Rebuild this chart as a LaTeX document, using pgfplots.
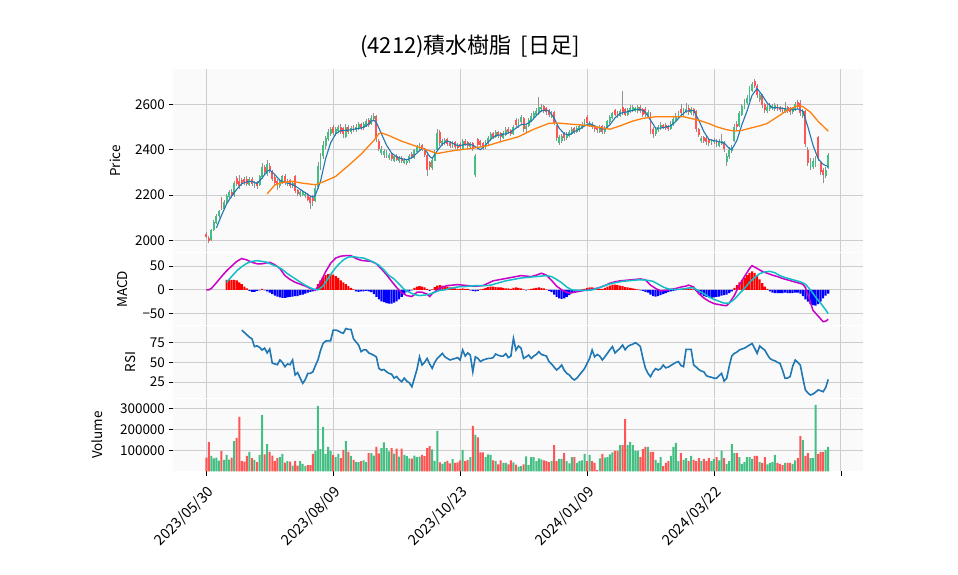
\documentclass[border=0pt]{standalone}
\usepackage{fontspec}
\setmainfont{Noto Sans CJK JP}
\usepackage{pgfplots}
\usepackage{pgfplotstable}
\pgfplotsset{compat=1.18}

\definecolor{upc}{RGB}{67,191,131}
\definecolor{dnc}{RGB}{255,85,85}
\definecolor{wickc}{RGB}{145,145,145}
\definecolor{bgc}{RGB}{250,250,250}
\definecolor{gridc}{RGB}{205,205,205}
\definecolor{ma5c}{RGB}{31,119,180}
\definecolor{ma25c}{RGB}{255,127,14}
\definecolor{macdc}{RGB}{200,0,200}
\definecolor{sigc}{RGB}{20,190,200}

% daily candles, split by colour: i open high low close volume
\pgfplotstableread{
i o h l c v
2 2000 2052 1995 2045 73000
3 2045 2088 2040 2080 62000
4 2078 2118 2072 2108 65000
5 2105 2135 2098 2128 51000
7 2140 2178 2132 2170 54000
8 2168 2205 2160 2195 78000
9 2192 2222 2185 2212 56000
11 2198 2262 2192 2252 144000
17 2245 2280 2240 2272 92000
19 2242 2262 2232 2256 54000
21 2242 2290 2238 2282 78000
22 2278 2340 2270 2325 268000
24 2292 2355 2285 2335 130000
29 2240 2270 2232 2262 68000
30 2255 2290 2250 2282 83000
32 2245 2270 2238 2262 49000
34 2238 2260 2230 2252 27000
37 2198 2222 2192 2215 49000
38 2202 2220 2195 2212 35000
39 2195 2212 2188 2206 25000
43 2175 2242 2168 2232 97000
44 2235 2345 2228 2330 311000
45 2322 2385 2310 2372 106000
46 2370 2438 2360 2422 211000
47 2418 2462 2405 2452 83000
48 2445 2492 2440 2478 116000
49 2470 2500 2460 2492 97000
51 2470 2502 2462 2492 68000
52 2482 2510 2472 2502 83000
55 2455 2512 2450 2498 144000
57 2478 2505 2470 2496 73000
59 2485 2512 2478 2502 44000
60 2496 2520 2488 2512 44000
62 2495 2522 2488 2512 52000
63 2505 2535 2500 2525 44000
65 2515 2552 2510 2540 87000
66 2535 2560 2528 2550 75000
69 2385 2415 2375 2402 110000
70 2378 2405 2365 2395 138000
71 2372 2398 2362 2388 110000
72 2365 2385 2355 2378 95000
74 2352 2378 2345 2370 84000
76 2350 2372 2342 2365 70000
78 2342 2362 2335 2355 78000
79 2340 2358 2332 2350 72000
80 2348 2380 2342 2372 62000
82 2365 2405 2360 2398 75000
83 2390 2420 2385 2412 68000
84 2405 2428 2398 2420 70000
89 2318 2365 2312 2355 105000
90 2352 2398 2348 2390 50000
91 2400 2490 2395 2475 192000
93 2425 2448 2415 2438 35000
94 2430 2450 2422 2442 45000
97 2415 2440 2408 2432 58000
101 2405 2448 2398 2438 102000
104 2410 2435 2402 2428 68000
106 2290 2380 2278 2372 173000
110 2408 2442 2402 2432 68000
111 2428 2460 2420 2452 81000
112 2448 2478 2440 2468 78000
114 2455 2488 2450 2478 49000
117 2450 2482 2445 2472 40000
118 2465 2498 2460 2488 40000
121 2470 2508 2465 2500 43000
123 2502 2535 2495 2525 22000
124 2520 2552 2515 2542 25000
126 2490 2515 2480 2506 71000
127 2505 2540 2498 2530 30000
128 2525 2560 2520 2550 68000
129 2545 2572 2538 2562 68000
130 2555 2582 2548 2572 49000
131 2560 2632 2555 2590 62000
132 2578 2600 2565 2588 57000
136 2545 2572 2538 2565 49000
139 2430 2465 2420 2455 59000
140 2440 2470 2430 2462 59000
142 2450 2478 2442 2470 49000
143 2460 2485 2455 2478 38000
144 2470 2500 2465 2490 68000
146 2478 2505 2472 2495 40000
147 2488 2512 2480 2505 49000
148 2500 2520 2492 2510 52000
149 2505 2535 2500 2525 83000
151 2505 2525 2498 2515 78000
155 2480 2510 2475 2500 62000
157 2478 2505 2470 2495 65000
158 2495 2530 2490 2525 68000
159 2520 2552 2515 2545 81000
160 2540 2568 2535 2560 90000
163 2550 2580 2545 2570 125000
166 2555 2585 2550 2575 125000
167 2565 2595 2560 2582 140000
168 2570 2598 2565 2588 125000
169 2572 2590 2565 2582 97000
170 2570 2595 2562 2586 97000
174 2550 2575 2540 2565 116000
177 2470 2498 2462 2490 54000
178 2485 2508 2478 2500 40000
179 2495 2520 2488 2510 68000
183 2490 2525 2485 2515 73000
184 2510 2545 2505 2535 116000
185 2530 2560 2525 2550 135000
186 2545 2570 2540 2560 49000
188 2555 2585 2550 2572 54000
189 2565 2605 2560 2580 63000
191 2560 2590 2555 2578 73000
195 2438 2460 2430 2450 49000
199 2428 2448 2420 2440 49000
200 2432 2450 2425 2442 59000
202 2418 2445 2410 2432 52000
203 2425 2468 2420 2440 97000
205 2345 2385 2328 2372 35000
206 2368 2410 2360 2400 49000
207 2395 2422 2385 2412 130000
208 2440 2512 2435 2500 87000
210 2505 2572 2500 2560 68000
211 2555 2602 2550 2592 35000
212 2585 2622 2578 2612 44000
213 2605 2642 2598 2630 68000
214 2620 2680 2615 2672 68000
215 2660 2700 2655 2690 59000
218 2620 2648 2610 2640 44000
221 2570 2600 2562 2590 33000
222 2580 2605 2570 2595 40000
223 2582 2602 2575 2592 44000
224 2580 2605 2572 2598 78000
228 2566 2612 2560 2582 40000
231 2565 2590 2558 2582 35000
232 2575 2612 2570 2602 52000
235 2550 2580 2540 2572 149000
238 2318 2365 2308 2345 63000
239 2325 2362 2315 2350 63000
240 2335 2372 2322 2358 316000
244 2285 2322 2275 2310 102000
245 2320 2385 2315 2375 116000
}\up

\pgfplotstableread{
i o h l c v
0 2028 2035 2008 2015 65000
1 2012 2018 1988 1998 140000
6 2185 2192 2135 2142 97000
10 2215 2228 2185 2195 65000
12 2275 2282 2238 2248 159000
13 2262 2288 2228 2240 259000
14 2268 2275 2240 2252 49000
15 2270 2278 2245 2258 46000
16 2272 2282 2240 2250 73000
18 2270 2278 2240 2250 63000
20 2256 2262 2228 2238 44000
23 2322 2332 2290 2300 81000
25 2330 2340 2295 2305 92000
26 2305 2312 2262 2270 75000
27 2278 2286 2245 2255 49000
28 2262 2270 2222 2242 63000
31 2285 2292 2245 2255 41000
33 2265 2270 2232 2240 46000
35 2285 2290 2208 2218 49000
36 2222 2228 2195 2205 27000
40 2202 2208 2172 2180 30000
41 2190 2195 2138 2165 30000
42 2185 2198 2150 2172 83000
50 2502 2508 2465 2475 78000
53 2502 2512 2470 2480 63000
54 2496 2502 2452 2468 102000
56 2502 2510 2468 2480 92000
58 2502 2508 2478 2488 54000
61 2512 2518 2485 2495 49000
64 2530 2538 2498 2508 87000
67 2548 2552 2432 2445 116000
68 2440 2448 2395 2405 85000
73 2380 2388 2348 2358 110000
75 2372 2380 2348 2355 108000
77 2365 2372 2340 2350 108000
81 2380 2388 2358 2368 60000
85 2420 2426 2395 2402 78000
86 2400 2405 2368 2378 72000
87 2375 2380 2282 2310 110000
88 2345 2352 2310 2322 120000
92 2480 2485 2418 2428 42000
95 2445 2450 2418 2425 50000
96 2430 2438 2408 2418 38000
98 2432 2438 2405 2412 40000
99 2420 2428 2398 2408 42000
100 2425 2432 2400 2410 52000
102 2440 2445 2415 2425 49000
103 2432 2440 2405 2418 54000
105 2430 2435 2395 2402 216000
107 2445 2450 2412 2422 162000
108 2438 2442 2410 2420 90000
109 2428 2435 2400 2410 90000
113 2472 2480 2448 2455 52000
115 2478 2482 2450 2460 33000
116 2472 2476 2440 2455 52000
119 2492 2498 2470 2478 33000
120 2486 2492 2462 2470 52000
122 2532 2540 2498 2508 32000
125 2540 2545 2480 2492 33000
133 2592 2598 2560 2570 52000
134 2582 2590 2555 2565 49000
135 2575 2580 2545 2555 44000
137 2565 2570 2508 2518 125000
138 2505 2508 2440 2450 49000
141 2472 2478 2440 2450 87000
145 2495 2500 2470 2480 68000
150 2545 2552 2510 2518 49000
152 2515 2522 2490 2500 48000
153 2505 2510 2480 2490 40000
154 2495 2500 2475 2485 6000
156 2505 2510 2470 2480 83000
161 2575 2580 2548 2555 97000
162 2565 2572 2540 2550 97000
164 2590 2658 2555 2562 125000
165 2578 2585 2548 2555 249000
171 2590 2598 2560 2570 68000
172 2578 2582 2545 2555 106000
173 2580 2588 2545 2558 116000
175 2562 2566 2470 2480 92000
176 2492 2500 2452 2468 92000
180 2510 2515 2492 2500 25000
181 2510 2518 2488 2495 40000
182 2505 2510 2482 2490 49000
187 2580 2602 2550 2560 87000
190 2585 2595 2555 2565 49000
192 2578 2582 2550 2560 54000
193 2570 2575 2478 2490 49000
194 2490 2495 2455 2465 63000
196 2455 2462 2428 2440 59000
197 2450 2458 2422 2435 49000
198 2445 2450 2418 2430 63000
201 2440 2448 2412 2425 68000
204 2430 2440 2390 2405 63000
209 2515 2525 2488 2500 87000
216 2705 2712 2670 2680 73000
217 2680 2690 2628 2640 73000
219 2640 2645 2582 2595 40000
220 2600 2605 2560 2575 68000
225 2598 2602 2570 2580 40000
226 2588 2592 2565 2575 35000
227 2585 2590 2562 2570 30000
229 2588 2592 2562 2570 40000
230 2582 2588 2555 2565 40000
233 2612 2618 2578 2588 63000
234 2605 2620 2550 2562 168000
236 2572 2576 2412 2425 73000
237 2400 2410 2328 2340 87000
241 2455 2462 2350 2362 83000
242 2345 2352 2290 2302 92000
243 2310 2320 2255 2290 92000
}\dn

\pgfplotsset{
  panel/.style={
    scale only axis, width=690bp,
    xmin=-13.1, xmax=258.7,
    axis background/.style={fill=bgc},
    axis line style={draw=none},
    grid=major, grid style={gridc, line width=0.9bp},
    xtick={0,50,100,150,200,250},
    ytick pos=left, xtick pos=bottom,
    tick align=outside, major tick length=4.5bp,
    every tick/.style={black, line width=0.8bp},
    scaled y ticks=false,
    tick label style={font=\fontsize{13.5bp}{16bp}\selectfont},
  },
  toppanel/.style={panel, xticklabels={}, xtick style={draw=none}},
  ylab/.style={every axis y label/.style={at={(rel axis cs:#1,0.5)}, rotate=90,
    anchor=center, font=\fontsize{13.5bp}{16bp}\selectfont}},
}

\begin{document}
\begin{tikzpicture}
\path[use as bounding box] (0,0) rectangle (958bp,-575bp);

% ---------- price ----------
\begin{axis}[toppanel, anchor=north west, at={(173bp,-69.3bp)}, height=183bp,
  ymin=1947, ymax=2754.5, ytick={2000,2200,2400,2600},
  yticklabels={2000,2200,2400,2600},
  ylabel={Price}, ylab=-0.0841,
  title={(4212)積水樹脂\hspace{9bp}[日足]},
  title style={at={(rel axis cs:0,1)}, anchor=center, xshift=297bp, yshift=17bp,
    font=\fontsize{22bp}{26bp}\selectfont}]
\addplot[draw=none, mark=none, forget plot, error bars/.cd, y dir=plus, y explicit,
  error mark=none, error bar style={draw=wickc, line width=0.9bp}]
  table[x=i, y=l, y error expr=\thisrow{h}-\thisrow{l}] {\up};
\addplot[draw=none, mark=none, forget plot, error bars/.cd, y dir=plus, y explicit,
  error mark=none, error bar style={draw=wickc, line width=0.9bp}]
  table[x=i, y=l, y error expr=\thisrow{h}-\thisrow{l}] {\dn};
\addplot[draw=none, mark=none, forget plot, error bars/.cd, y dir=plus, y explicit,
  error mark=none, error bar style={draw=upc, line width=1.9bp}]
  table[x=i, y=o, y error expr=\thisrow{c}-\thisrow{o}] {\up};
\addplot[draw=none, mark=none, forget plot, error bars/.cd, y dir=plus, y explicit,
  error mark=none, error bar style={draw=dnc, line width=1.9bp}]
  table[x=i, y=c, y error expr=\thisrow{o}-\thisrow{c}] {\dn};
% 5-day average
\addplot[ma5c, line width=1.1bp, mark=none] coordinates {
(4,2055)(6,2110)(8,2160)(10,2195)(12,2225)(14,2250)(16,2258)(18,2260)(20,2250)
(22,2275)(24,2305)(25,2310)(27,2290)(29,2265)(31,2255)(33,2250)(35,2240)(37,2225)
(39,2210)(41,2195)(42,2190)(43,2200)(45,2260)(47,2360)(49,2430)(51,2470)(53,2485)
(55,2485)(57,2488)(59,2492)(61,2495)(63,2505)(65,2525)(66,2530)(67,2520)(69,2470)
(71,2420)(73,2385)(75,2368)(77,2360)(79,2355)(81,2365)(83,2385)(85,2405)(86,2405)
(88,2370)(89,2362)(91,2395)(93,2425)(95,2438)(97,2428)(99,2418)(101,2420)(103,2425)
(105,2420)(107,2405)(108,2400)(110,2420)(112,2445)(114,2462)(116,2465)(118,2470)
(120,2478)(122,2495)(124,2510)(126,2512)(128,2525)(130,2550)(132,2572)(134,2575)
(135,2570)(137,2540)(139,2495)(141,2470)(143,2465)(145,2480)(147,2490)(149,2505)
(151,2515)(153,2505)(155,2495)(157,2490)(159,2510)(161,2540)(163,2560)(165,2565)
(167,2570)(169,2578)(171,2578)(173,2565)(175,2530)(177,2495)(179,2495)(181,2500)
(183,2505)(185,2525)(187,2550)(189,2570)(191,2572)(192,2572)(194,2530)(196,2480)
(198,2445)(200,2440)(202,2435)(204,2430)(206,2405)(207,2400)(209,2440)(211,2510)
(213,2570)(215,2640)(217,2670)(219,2640)(221,2605)(223,2585)(225,2585)(227,2582)
(229,2578)(231,2575)(233,2580)(235,2570)(237,2500)(239,2420)(241,2360)(243,2335)
(245,2325)};
% 25-day average
\addplot[ma25c, line width=1.3bp, mark=none] coordinates {
(24,2205)(27,2244)(30,2255)(34,2260)(38,2252)(43,2245)(47,2262)(51,2282)(56,2330)
(61,2380)(66,2440)(68,2470)(69,2474)(72,2462)(77,2437)(84,2410)(91,2383)(97,2395)
(104,2405)(110,2415)(116,2435)(123,2457)(129,2490)(135,2516)(138,2518)(143,2513)
(149,2508)(155,2498)(159,2490)(163,2505)(168,2526)(172,2538)(177,2545)(188,2545)
(194,2530)(198,2515)(201,2501)(205,2488)(208,2482)(211,2485)(214,2494)(218,2505)
(221,2516)(225,2545)(229,2575)(233,2594)(235,2590)(238,2565)(241,2525)(245,2482)};
\end{axis}

% ---------- MACD ----------
\begin{axis}[toppanel, anchor=north west, at={(173bp,-253.3bp)}, height=72bp,
  ymin=-74.6, ymax=77, ytick={-50,0,50}, yticklabels={−50,0,50},
  ylabel={MACD}, ylab=-0.0725]
\addplot[ybar, bar width=2.1bp, bar shift=0pt, fill=red, draw=none] coordinates {
(8,21)(9,21)(10,21)(11,21)(12,20)(13,16)(14,12)(15,7)(16,3)(22,2)(43,2)(44,12)(45,20)
(46,27)(47,31)(48,33)(49,34)(50,32)(51,29)(52,25)(53,20)(54,16)(55,12)(56,8)(57,4)
(58,1)(82,4)(83,7)(84,8)(85,7)(86,5)(87,2)(89,1)(90,6)(91,9)(92,10)(93,9)(94,8)(95,7)
(96,5)(97,4)(98,3)(99,2)(100,2)(101,3)(102,2)(103,2)(108,1)(109,2)(110,4)(111,6)
(112,7)(113,7)(114,6)(115,5)(116,5)(117,4)(118,3)(119,3)(120,2)(121,4)(122,5)(123,4)
(124,3)(125,1)(127,1)(128,2)(129,3)(130,4)(131,5)(132,4)(133,3)(134,1)(148,1)(149,2)
(150,4)(151,5)(152,5)(153,4)(154,3)(155,2)(156,2)(157,4)(158,7)(159,9)(160,11)(161,11)
(162,10)(163,9)(164,8)(165,6)(166,5)(167,4)(168,3)(169,2)(170,1)(186,1)(187,2)(188,2)
(189,3)(190,3)(191,2)(192,1)(208,4)(209,10)(210,16)(211,21)(212,26)(213,31)(214,36)
(215,39)(216,36)(217,30)(218,22)(219,14)(220,7)(221,2)};
\addplot[ybar, bar width=2.1bp, bar shift=0pt, fill=blue, draw=none] coordinates {
(17,-2)(18,-4)(19,-4)(20,-2)(21,-1)(23,-1)(24,-3)(25,-6)(26,-9)(27,-12)(28,-14)(29,-16)
(30,-17)(31,-17)(32,-16)(33,-15)(34,-14)(35,-13)(36,-13)(37,-11)(38,-10)(39,-8)(40,-6)
(41,-4)(42,-3)(59,-3)(60,-4)(61,-3)(62,-3)(63,-2)(64,-3)(65,-5)(66,-9)(67,-15)(68,-20)
(69,-24)(70,-26)(71,-28)(72,-29)(73,-29)(74,-27)(75,-24)(76,-20)(77,-15)(78,-9)(79,-5)
(80,-3)(81,-1)(88,-2)(104,-1)(105,-2)(106,-3)(107,-2)(126,-1)(135,-2)(136,-5)(137,-10)
(138,-15)(139,-18)(140,-19)(141,-18)(142,-15)(143,-11)(144,-7)(145,-4)(146,-2)(147,-1)
(171,-1)(172,-2)(173,-4)(174,-6)(175,-10)(176,-13)(177,-14)(178,-13)(179,-11)(180,-9)
(181,-7)(182,-5)(183,-3)(184,-2)(185,-1)(193,-2)(194,-6)(195,-10)(196,-13)(197,-15)
(198,-16)(199,-17)(200,-16)(201,-15)(202,-14)(203,-12)(204,-11)(205,-10)(206,-7)(207,-3)
(222,-3)(223,-6)(224,-7)(225,-7)(226,-7)(227,-7)(228,-6)(229,-7)(230,-7)(231,-7)(232,-6)
(233,-6)(234,-8)(235,-13)(236,-20)(237,-25)(238,-30)(239,-32)(240,-33)(241,-30)(242,-25)
(243,-18)(244,-12)(245,-8)};
\addplot[macdc, line width=1.5bp, mark=none] coordinates {
(0,0)(1,0)(2,3)(4,15)(6,28)(8,40)(10,50)(12,60)(14,66)(16,63)(18,58)(20,55)(22,55)
(24,57)(25,58)(27,53)(29,45)(31,30)(33,22)(35,16)(37,12)(39,8)(41,3)(43,-1)(45,16)
(47,38)(49,56)(51,67)(53,71)(55,72)(57,72)(59,66)(61,62)(63,61)(65,60)(67,55)(69,44)
(71,32)(73,18)(75,5)(77,-6)(79,-12)(81,-14)(83,-5)(85,-5)(87,-9)(88,-14)(89,-8)(91,0)
(93,6)(95,9)(97,10)(99,11)(101,10)(103,9)(105,8)(107,8)(109,9)(111,14)(113,19)(115,21)
(117,23)(119,25)(121,27)(123,29)(124,30)(126,29)(128,28)(130,31)(132,35)(134,31)
(136,20)(138,8)(140,0)(142,-5)(143,-7)(145,-5)(147,-3)(149,-1)(151,0)(153,2)(155,5)
(157,9)(159,14)(161,17)(163,19)(165,20)(167,21)(169,22)(171,23)(173,21)(175,10)
(177,3)(179,-2)(181,-1)(183,1)(185,3)(187,6)(189,8)(190,10)(192,6)(194,-8)(196,-17)
(198,-24)(200,-29)(202,-31)(204,-33)(205,-33)(206,-28)(208,-12)(210,10)(212,28)
(214,45)(215,51)(217,45)(219,39)(221,35)(223,31)(225,28)(227,24)(229,21)(231,18)
(233,15)(235,12)(236,5)(237,-10)(239,-43)(241,-55)(243,-67)(244,-66)(245,-62)};
\addplot[sigc, line width=1.5bp, mark=none] coordinates {
(8,16)(10,28)(12,40)(14,49)(16,56)(18,60)(20,61.5)(22,60)(24,58)(26,53)(28,49)(30,43)
(32,34)(34,27)(36,20)(38,13)(40,7)(42,2)(44,0)(46,8)(48,24)(50,40)(52,53)(54,63)(56,69)
(58,70)(60,68)(62,67)(64,63)(66,58)(68,52)(70,42)(72,30)(74,23)(76,12)(78,1)(80,-5)
(82,-10)(84,-12)(86,-11)(88,-9)(90,-5)(92,-1)(94,0)(96,3)(98,5)(100,7)(102,7)(104,8)
(106,9)(108,9)(110,9)(112,10)(114,13)(116,16)(118,19)(120,21)(122,23)(124,25)(126,26)
(128,27)(130,28)(132,29)(134,30)(136,28)(138,22)(140,15)(142,6)(144,0)(146,-1)(148,-1)
(150,-1)(152,0)(154,3)(156,7)(158,11)(160,14)(162,16)(164,18)(166,19)(168,20)(170,21)
(172,21)(174,20)(176,18)(178,12)(180,6)(182,2)(184,1)(186,1)(188,2)(190,4)(192,4)
(194,-2)(196,-8)(198,-15)(200,-20)(202,-24)(204,-28)(206,-28)(208,-20)(210,-8)(212,3)
(214,16)(216,26)(218,34)(220,38)(222,39)(224,36)(226,30)(228,26)(230,23)(232,20)
(234,17)(236,12)(238,0)(240,-15)(242,-28)(244,-42)(245,-50)};
\end{axis}

% ---------- RSI ----------
\begin{axis}[toppanel, anchor=north west, at={(173bp,-326bp)}, height=72bp,
  ymin=4.7, ymax=96.2, ytick={25,50,75}, yticklabels={25,50,75},
  ylabel={RSI}, ylab=-0.0609]
\addplot[ma5c, line width=1.6bp, mark=none] coordinates {
(14,91)(15,88)(16,85)(17,82)(18,80)(19,70)(20,71)(21,69)(22,65.7)(23,68)(24,62)(25,67)
(26,49)(27,48)(28,47)(29,53)(30,50)(31,44.5)(32,48)(33,47)(34,53)(35,34)(36,37)(37,30)
(38,23.3)(39,28)(40,36)(41,36)(42,38)(43,46)(44,53)(45,65)(46,74)(47,77)(48,77.5)
(49,77.5)(50,91)(51,91)(52,90)(53,88)(54,87)(55,93)(56,92)(57,92)(58,80)(59,76)(60,72)
(61,63.6)(62,66)(63,65.7)(64,62)(65,60.6)(66,59)(67,57)(68,42.4)(69,40)(70,41)(71,38)
(72,36)(73,35)(74,30)(75,32)(76,28)(77,25.4)(78,30)(79,26)(80,24)(81,19)(82,30)(83,41)
(84,57)(85,46.6)(86,50)(87,55)(88,48)(89,42.4)(90,50)(91,55)(92,58)(93,61.4)(94,57)
(95,55)(96,53)(97,54)(98,55)(99,56)(100,53)(101,65.7)(102,58)(103,62)(104,59.3)(105,38)
(106,57)(107,55)(108,51)(109,53)(110,54)(111,55)(112,55)(113,56)(114,60.6)(115,59)
(116,58)(117,58)(118,61)(119,56)(120,58)(121,80.5)(122,65.7)(123,70.8)(124,68)(125,55)
(126,57)(127,59.3)(128,55)(129,58)(130,60)(131,63.6)(132,60)(133,59)(134,58)(135,51)
(136,48)(137,44)(138,40.3)(139,43)(140,46.6)(141,40)(142,36)(143,34)(144,30)(145,27.6)
(146,30)(147,34)(148,38)(149,42)(150,48.7)(151,55)(152,65.7)(153,57)(154,60)(155,58)
(156,53)(157,57)(158,61.4)(159,66)(160,70)(161,62)(162,65)(163,68)(164,72)(165,66)
(166,70)(167,72)(168,73)(169,75)(170,73)(171,70)(172,55)(173,42.4)(174,36)(175,31.8)
(176,38)(177,42)(178,40.3)(179,42)(180,46.6)(181,43)(182,44)(183,46)(184,48)(185,50)
(186,51)(187,46)(188,44.5)(189,66.5)(190,66.5)(191,66.5)(192,46.6)(193,44)(194,41)
(195,39)(196,38)(197,33)(198,31.8)(199,31)(200,30)(201,29.7)(202,33)(203,36)(204,26.3)
(205,29.7)(206,45)(207,58)(208,61.4)(209,63)(210,65.7)(211,67)(212,68)(213,70)(214,72)
(215,74)(216,68)(217,61.4)(218,70.8)(219,68)(220,65.7)(221,60)(222,55)(223,53)(224,52)
(225,50)(226,48.7)(227,40)(228,29.7)(229,30)(230,32)(231,45)(232,53)(233,50)(234,46.6)
(235,30)(236,15)(237,11)(238,8.5)(239,9.8)(240,12)(241,15)(242,14)(243,12.7)(244,18)
(245,28.4)};
\end{axis}

% ---------- volume ----------
\begin{axis}[panel, anchor=north west, at={(173bp,-398.5bp)}, height=72.8bp,
  ymin=0, ymax=346667, ytick={100000,200000,300000},
  yticklabels={100000,200000,300000},
  xticklabels={2023/05/30,2023/08/09,2023/10/23,2024/01/09,2024/03/22,{}},
  xticklabel style={yshift=-6bp, rotate=45, anchor=north east, inner sep=2bp,
    font=\fontsize{14.5bp}{17bp}\selectfont},
  ylabel={Volume}, ylab=-0.110]
\addplot[ybar, bar width=2.0bp, bar shift=0pt, fill=upc, draw=none]
  table[x=i, y=v] {\up};
\addplot[ybar, bar width=2.0bp, bar shift=0pt, fill=dnc, draw=none]
  table[x=i, y=v] {\dn};
\end{axis}
\end{tikzpicture}
\end{document}
